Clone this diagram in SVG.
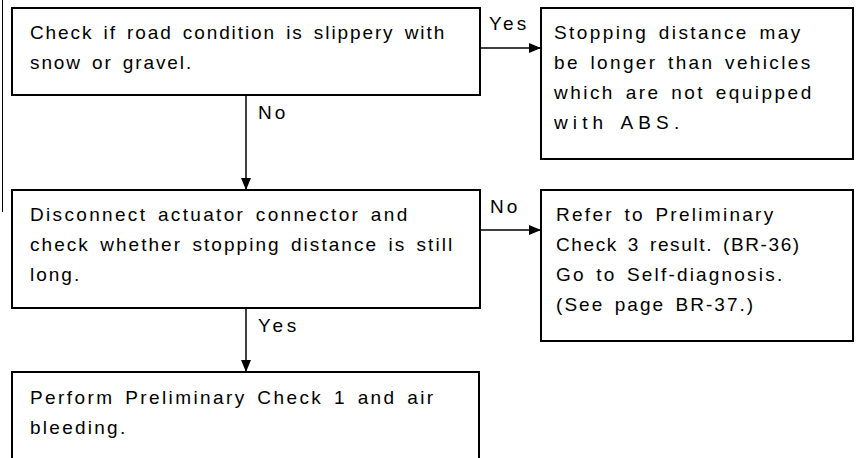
<svg xmlns="http://www.w3.org/2000/svg" width="864" height="458" viewBox="0 0 864 458">
<defs>
<marker id="ah" markerWidth="12" markerHeight="10" refX="12" refY="5" orient="auto" markerUnits="userSpaceOnUse">
<path d="M0,0 L12,5 L0,10 Z" fill="#000"/>
</marker>
<style>
.box{fill:#fff;stroke:#000;stroke-width:2}
.t{font-family:"Liberation Sans",Arial,sans-serif;font-size:19px;letter-spacing:0.8px;word-spacing:3px;fill:#000}
.c{stroke:#000;stroke-width:1.5;fill:none;marker-end:url(#ah)}
</style>
</defs>
<rect width="864" height="458" fill="#fff"/>
<line x1="2.5" y1="0" x2="2.5" y2="212" stroke="#000" stroke-width="1"/>
<g id="n1">
<rect class="box" x="12" y="8" width="468" height="87"/>
<text class="t" x="30" y="39" textLength="415" lengthAdjust="spacing">Check if road condition is slippery with</text>
<text class="t" x="30" y="69" textLength="162" lengthAdjust="spacing">snow or gravel.</text>
</g>
<g id="n2">
<rect class="box" x="541" y="8" width="312" height="151"/>
<text class="t" x="554" y="39" textLength="247" lengthAdjust="spacing">Stopping distance may</text>
<text class="t" x="554" y="69" textLength="257" lengthAdjust="spacing">be longer than vehicles</text>
<text class="t" x="554" y="99" textLength="258" lengthAdjust="spacing">which are not equipped</text>
<text class="t" x="554" y="129" textLength="126" lengthAdjust="spacing">with ABS.</text>
</g>
<g id="n3">
<rect class="box" x="12" y="190" width="468" height="118"/>
<text class="t" x="30" y="221" textLength="378" lengthAdjust="spacing">Disconnect actuator connector and</text>
<text class="t" x="30" y="251" textLength="423" lengthAdjust="spacing">check whether stopping distance is still</text>
<text class="t" x="30" y="281" textLength="50" lengthAdjust="spacing">long.</text>
</g>
<g id="n4">
<rect class="box" x="541" y="190" width="312" height="151"/>
<text class="t" x="556" y="221" textLength="218" lengthAdjust="spacing">Refer to Preliminary</text>
<text class="t" x="556" y="251" textLength="244" lengthAdjust="spacing">Check 3 result. (BR-36)</text>
<text class="t" x="556" y="281" textLength="227" lengthAdjust="spacing">Go to Self-diagnosis.</text>
<text class="t" x="556" y="311" textLength="198" lengthAdjust="spacing">(See page BR-37.)</text>
</g>
<g id="n5">
<rect class="box" x="12" y="372" width="467" height="100"/>
<text class="t" x="30" y="404" textLength="404" lengthAdjust="spacing">Perform Preliminary Check 1 and air</text>
<text class="t" x="30" y="434" textLength="96" lengthAdjust="spacing">bleeding.</text>
</g>
<g id="connectors">
<line class="c" x1="480" y1="48" x2="541" y2="48"/>
<text class="t" x="489" y="30" textLength="38" lengthAdjust="spacing">Yes</text>
<line class="c" x1="246" y1="95" x2="246" y2="190"/>
<text class="t" x="258" y="119" textLength="28" lengthAdjust="spacing">No</text>
<line class="c" x1="480" y1="230" x2="541" y2="230"/>
<text class="t" x="490" y="213" textLength="28" lengthAdjust="spacing">No</text>
<line class="c" x1="246" y1="308" x2="246" y2="372"/>
<text class="t" x="258" y="332" textLength="39" lengthAdjust="spacing">Yes</text>
</g>
</svg>
